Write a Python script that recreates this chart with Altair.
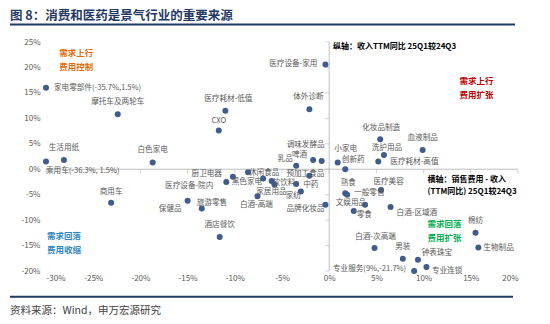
import altair as alt
import pandas as pd

FONT = "Noto Sans CJK SC"

TITLE = "图 8：消费和医药是景气行业的重要来源"
SOURCE = "资料来源：Wind，申万宏源研究"

names = [
    "家电零部件(-35.7%,1.5%)", "乘用车(-36.3%, 1.5%)", "摩托车及两轮车", "生活用纸", "商用车",
    "白色家电", "医疗设备-家用", "医疗耗材-低值", "CXO", "体外诊断",
    "啤酒", "调味发酵品", "乳品", "小家电", "创新药",
    "化妆品制造", "血液制品", "洗护用品", "医疗耗材-高值", "厨卫电器",
    "医疗设备-院内", "休闲食品", "黑色家电", "软饮料", "家居用品",
    "预加工食品", "中药", "家纺", "白酒-高端", "品牌化妆品",
    "旅游零售", "保健品", "酒店餐饮", "熟食", "一般零售",
    "医疗美容", "文娱用品", "零食", "白酒-区域酒", "白酒-次高端",
    "男装", "钟表珠宝", "专业服务(9%,-21.7%)", "专业连锁", "棉纺", "生物制品",
]
x_vals = [
    -35.7, -36.3, -22.4, -28.1, -23.1,
    -18.7, -0.4, -11.0, -11.7, -2.1,
    -1.7, -0.8, -3.5, 0.9, 1.7,
    5.4, 9.9, 5.8, 5.2, -10.2,
    -10.9, -8.6, -7.0, -6.1, -5.8,
    -2.1, -3.5, -3.0, -7.6, -0.4,
    -13.5, -15.0, -11.6, 1.7, 1.9,
    5.5, 3.8, 2.6, 6.5, 4.8,
    7.8, 9.4, 9.0, 10.3, 15.5, 15.8,
]
y_vals = [
    16.0, 1.5, 10.8, 1.8, -6.6,
    1.3, 20.6, 11.5, 7.6, 11.8,
    1.8, 1.6, 0.7, 1.3, 0.0,
    5.9, 3.8, 2.8, 1.5, -1.5,
    -2.5, -0.6, -1.8, -2.3, -3.0,
    -1.3, -2.9, -4.4, -5.3, -7.0,
    -7.7, -6.2, -13.3, -4.7, -5.0,
    -4.1, -7.0, -8.2, -7.4, -15.5,
    -17.6, -17.8, -21.7, -19.2, -12.5, -15.4,
]

x_ticks = [-30, -25, -20, -15, -10, -5, 0, 5, 10, 15, 20]
y_ticks = [-20, -15, -10, -5, 0, 5, 10, 15, 20, 25]

X_DOMAIN = [-30, 20]
Y_DOMAIN = [-20, 25]
PLOT_W, PLOT_H = 472, 229

# label placement (style only): align, dx, dy in pixels
LABEL_STYLE = {
    "家电零部件(-35.7%,1.5%)": ("left", 8, 0),
    "乘用车(-36.3%, 1.5%)": ("left", 0, 9),
    "摩托车及两轮车": ("center", 0, -12),
    "生活用纸": ("center", 0, -12),
    "商用车": ("center", 0, -11),
    "白色家电": ("center", 0, -13),
    "医疗设备-家用": ("right", -8, 0),
    "医疗耗材-低值": ("center", 3, -12),
    "CXO": ("center", 0, -10),
    "体外诊断": ("center", -1, -12),
    "啤酒": ("right", -6, -5),
    "调味发酵品": ("center", -16, -16),
    "乳品": ("center", -11, -7),
    "小家电": ("center", 8, -14),
    "创新药": ("center", 8, -9.5),
    "化妆品制造": ("center", 1, -11),
    "血液制品": ("center", 0, -12),
    "洗护用品": ("center", 3, -7),
    "医疗耗材-高值": ("left", 12, 0),
    "厨卫电器": ("right", -11, -2.5),
    "医疗设备-院内": ("right", -13, 4),
    "休闲食品": ("left", 1, 1),
    "黑色家电": ("right", -1, 3.5),
    "软饮料": ("left", 1, 2),
    "家居用品": ("center", -3, 8),
    "预加工食品": ("center", -4, -2),
    "中药": ("left", 7, 1),
    "家纺": ("right", 0, 4.5),
    "白酒-高端": ("center", -1, 9),
    "品牌化妆品": ("right", -1, 4),
    "旅游零售": ("left", -5, -5),
    "保健品": ("right", -6, 8),
    "酒店餐饮": ("center", 0, -12),
    "熟食": ("center", 3, -10.5),
    "一般零售": ("left", 7, -2),
    "医疗美容": ("center", 7.5, -8),
    "文娱用品": ("right", 1, -2),
    "零食": ("left", 3, 4),
    "白酒-区域酒": ("left", 6, 6.5),
    "白酒-次高端": ("center", 1, -11.5),
    "男装": ("center", 0, -11.5),
    "钟表珠宝": ("center", 19, -6.5),
    "专业服务(9%,-21.7%)": ("right", -8, -2),
    "专业连锁": ("left", 5.5, 6.5),
    "棉纺": ("center", 0, -12),
    "生物制品": ("left", 5, 0),
}

df = pd.DataFrame({"name": names, "x": x_vals, "y": y_vals})
df["align"] = [LABEL_STYLE[n][0] for n in names]
df["dx"] = [LABEL_STYLE[n][1] for n in names]
df["dy"] = [LABEL_STYLE[n][2] for n in names]

px_x = PLOT_W / (X_DOMAIN[1] - X_DOMAIN[0])
px_y = PLOT_H / (Y_DOMAIN[1] - Y_DOMAIN[0])

xs = alt.Scale(domain=X_DOMAIN, clamp=True, nice=False, zero=False)
ys = alt.Scale(domain=Y_DOMAIN, clamp=True, nice=False, zero=False)

LABEL_COLOR = "#595959"
DOT_COLOR = "#3E5C8E"
NAVY = "#1F3864"
AXIS_GRAY = "#BFBFBF"

x_axis = alt.Axis(values=x_ticks, labelExpr="datum.value + '%'", domain=False, ticks=False,
                  grid=False, title=None, labelFontSize=8, labelColor=LABEL_COLOR,
                  labelFont=FONT, labelPadding=3)
y_axis = alt.Axis(values=y_ticks, labelExpr="datum.value + '%'", domain=False, ticks=False,
                  grid=False, title=None, labelFontSize=8, labelColor=LABEL_COLOR,
                  labelFont=FONT, labelPadding=6)


def X(field):
    return alt.X(field, scale=xs, axis=x_axis)


def Y(field):
    return alt.Y(field, scale=ys, axis=y_axis)


one = pd.DataFrame({"k": [0]})

zero_v = alt.Chart(one).mark_rule(color=AXIS_GRAY, strokeWidth=1).encode(x=X("k:Q"))
zero_h = alt.Chart(one).mark_rule(color=AXIS_GRAY, strokeWidth=1).encode(y=Y("k:Q"))

xt = alt.Chart(pd.DataFrame({"v": x_ticks, "z": 0})).mark_tick(
    orient="vertical", size=4, thickness=1, color=AXIS_GRAY, yOffset=2).encode(
    x=X("v:Q"), y=Y("z:Q"))
yt = alt.Chart(pd.DataFrame({"v": y_ticks, "z": 0})).mark_tick(
    orient="horizontal", size=4, thickness=1, color=AXIS_GRAY, xOffset=-2).encode(
    y=Y("v:Q"), x=X("z:Q"))

points = alt.Chart(df).mark_circle(size=36, color=DOT_COLOR, opacity=1).encode(
    x=X("x:Q"), y=Y("y:Q"),
)

label_layers = []
for al in ["left", "center", "right"]:
    label_layers.append(
        alt.Chart(df).transform_filter(alt.datum.align == al).transform_calculate(
            lx=f"clamp(datum.x, {X_DOMAIN[0]}, {X_DOMAIN[1]}) + datum.dx / {px_x}",
            ly=f"clamp(datum.y, {Y_DOMAIN[0]}, {Y_DOMAIN[1]}) - datum.dy / {px_y}",
        ).mark_text(
            align=al, baseline="middle", fontSize=7.6, font=FONT, color=LABEL_COLOR
        ).encode(
            x=X("lx:Q"), y=Y("ly:Q"), text="name:N",
        )
    )

notes_df = pd.DataFrame({
    "t": ["需求上行", "费用控制", "需求上行", "费用扩张", "需求回落", "费用收缩",
          "需求回落", "费用扩张", "纵轴：收入TTM同比 25Q1较24Q3",
          "横轴：销售费用 - 收入", "(TTM同比) 25Q1较24Q3"],
    "nx": [-28.6, -28.6, 13.8, 13.8, -29.9, -29.9, 10.4, 10.4, 0.4, 10.4, 10.4],
    "ny": [22.9, 20.0, 17.4, 14.6, -13.1, -15.9, -10.8, -13.6, 24.1, -2.1, -4.4],
    "c": ["#E36C09", "#E36C09", "#C00000", "#C00000", "#2E86C1", "#2E86C1",
          "#00B050", "#00B050", "#000000", "#000000", "#000000"],
    "s": [8.5, 8.5, 8.5, 8.5, 8.5, 8.5, 8.5, 8.5, 8, 8, 8],
})
notes = alt.Chart(notes_df).mark_text(
    align="left", baseline="middle", font=FONT, fontWeight="bold"
).encode(
    x=X("nx:Q"), y=Y("ny:Q"),
    text="t:N",
    color=alt.Color("c:N", scale=None),
    size=alt.Size("s:Q", scale=None),
)

title = alt.Chart(one).mark_text(
    align="left", baseline="middle", fontSize=12.5, font=FONT, fontWeight="bold", color=NAVY
).encode(x=alt.value(-36), y=alt.value(-26), text=alt.value(TITLE))
title_rule = alt.Chart(one).mark_rule(color=NAVY, strokeWidth=2).encode(
    x=alt.value(-36), x2=alt.value(469), y=alt.value(-17.5))
bottom_rule = alt.Chart(one).mark_rule(color=NAVY, strokeWidth=2).encode(
    x=alt.value(-36), x2=alt.value(467), y=alt.value(254.7))
source = alt.Chart(one).mark_text(
    align="left", baseline="middle", fontSize=10.5, font=FONT, color="#404040"
).encode(x=alt.value(-36), y=alt.value(269), text=alt.value(SOURCE))

chart = alt.layer(
    zero_v, zero_h, xt, yt, points, *label_layers, notes, title, title_rule, bottom_rule, source
).properties(
    width=PLOT_W, height=PLOT_H,
    autosize=alt.AutoSizeParams(type="none"),
    padding={"left": 46, "top": 42, "right": 32, "bottom": 53},
    background="white",
).configure_view(stroke=None)

chart.save("out.html", embed_options={"renderer": "svg", "actions": False})
